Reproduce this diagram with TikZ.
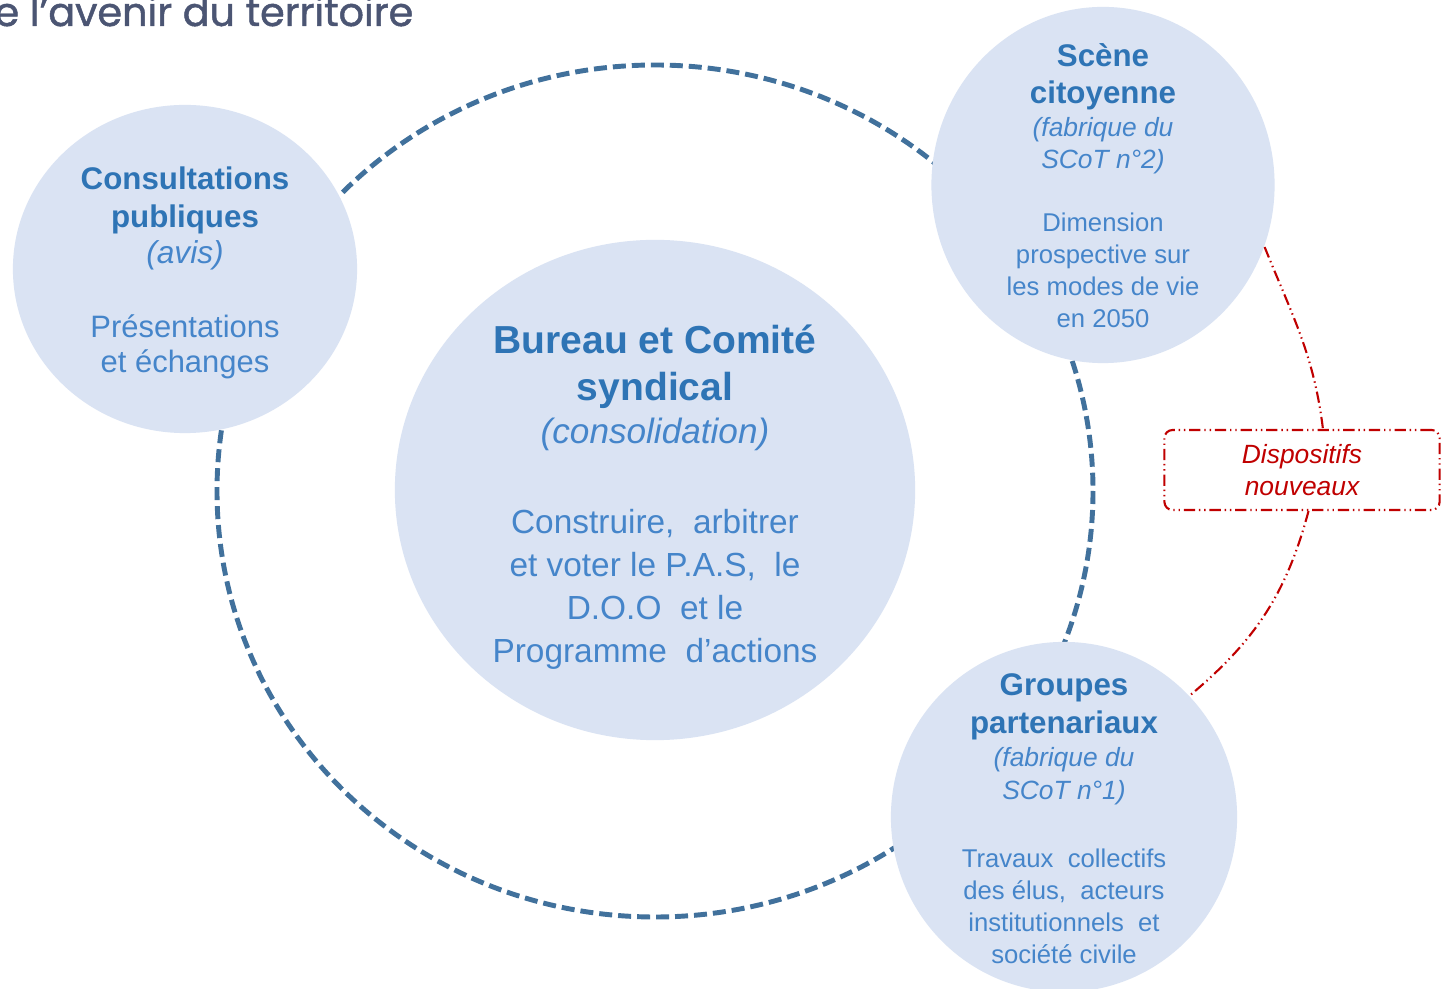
\documentclass[tikz,border=0pt]{standalone}
\usepackage{fontspec}
\setmainfont{Liberation Sans}
\newfontfamily\titlefont{Poppins}[RawFeature={embolden=1.2}]
\usetikzlibrary{shapes.geometric}

\definecolor{bubblefill}{HTML}{DAE3F3}
\definecolor{headblue}{HTML}{2E74B5}
\definecolor{bodyblue}{HTML}{4585CA}
\definecolor{ringblue}{HTML}{41719C}
\definecolor{newred}{HTML}{C00000}
\definecolor{titlegrey}{HTML}{4B5573}

% text sizes inside the bubbles
\newcommand{\txtsize}[2]{\fontsize{#1}{#2}\selectfont\lineskiplimit=-20pt\relax}
\newcommand{\bubblehead}[2][8.9]{{\fontsize{#1}{9}\selectfont\bfseries\color{headblue}#2}}
\newcommand{\bubblenote}[2][7.5]{{\fontsize{#1}{9}\selectfont\itshape #2}}

\begin{document}
\begin{tikzpicture}[x=0.01cm,y=-0.01cm,
        bubble/.style={ellipse,fill=bubblefill,inner sep=0pt},
        txt/.style={align=center,inner sep=0pt,text=bodyblue,font=\txtsize{7.3}{9.1}},
        ring/.style={draw=ringblue,line width=1.4pt,dash pattern=on 3.7pt off 1.7pt},
        newlink/.style={draw=newred,line width=0.6pt,
            dash pattern=on 3.2pt off 1.1pt on 0.4pt off 1.1pt on 0.4pt off 1.1pt},
        newbox/.style={newlink,rounded corners=2.3pt,minimum width=2.75cm,
            minimum height=0.8cm,inner sep=0pt,align=center,text=newred,
            font=\fontsize{7.5}{9.1}\selectfont\itshape}]

    \clip (0,0) rectangle (1452,989);
    \fill[white] (0,0) rectangle (1452,989);

    % title, cut by the left edge
    \node[anchor=base east,inner sep=0pt,text=titlegrey,
          font=\titlefont\fontsize{11.3}{13}\selectfont] (title) at (414,26)
          {e l’avenir du territoire};

    % centre bubble and the ring round it
    \node[bubble,minimum width=5.2cm,minimum height=5cm] (bureau) at (655,490) {};
    \draw[ring] (655,491) ellipse [x radius=438,y radius=426];

    % outer bubbles
    \node[bubble,minimum width=3.44cm,minimum height=3.28cm] (consult) at (185,269) {};
    \node[bubble,minimum width=3.43cm,minimum height=3.56cm] (scene) at (1103,185) {};
    \node[bubble,minimum width=3.46cm,minimum height=3.5cm] (groupes) at (1064,817) {};

    % texts
    \node[txt,font=\txtsize{9.5}{12.2}] (bureau-txt) at (655,497)
        {\bubblehead[11.1]{Bureau et Comité}\\[1.4pt]
         \bubblehead[11.1]{syndical}\\[0pt]
         \bubblenote[10]{(consolidation)}\\[13.4pt]
         Construire,\ \ arbitrer\\
         et voter le P.A.S,\ \ le\\
         D.O.O\ \ et le\\
         Programme\ \ d’actions};
    \node[txt,font=\txtsize{8.8}{10.2}] (consult-txt) at (185,273)
        {\bubblehead{Consultations}\\[0.6pt]
         \bubblehead{publiques}\\
         \bubblenote[9]{(avis)}\\[10.8pt]
         Présentations\\
         et échanges};
    \node[txt] (scene-txt) at (1103,186)
        {\bubblehead{Scène}\\[1.4pt]
         \bubblehead{citoyenne}\\[0.3pt]
         \bubblenote{(fabrique du}\\
         \bubblenote{SCoT n°2)}\\[8.8pt]
         Dimension\\
         prospective sur\\
         les modes de vie\\
         en 2050};
    \node[txt] (groupes-txt) at (1064,819)
        {\bubblehead{Groupes}\\[1.7pt]
         \bubblehead{partenariaux}\\[0.3pt]
         \bubblenote{(fabrique du}\\[0.3pt]
         \bubblenote{SCoT n°1)}\\[10.2pt]
         Travaux\ \ collectifs\\
         des élus,\ \ acteurs\\
         institutionnels\ \ et\\
         société civile};

    % new devices
    \node[newbox] (dispo) at (1302,470) {Dispositifs\\nouveaux};
    \draw[newlink] (scene.-21.6) to[out=-68,in=97] (dispo.63.4);
    \draw[newlink] (dispo.-81.5) to[out=-105,in=40] (groupes.44);
\end{tikzpicture}
\end{document}
